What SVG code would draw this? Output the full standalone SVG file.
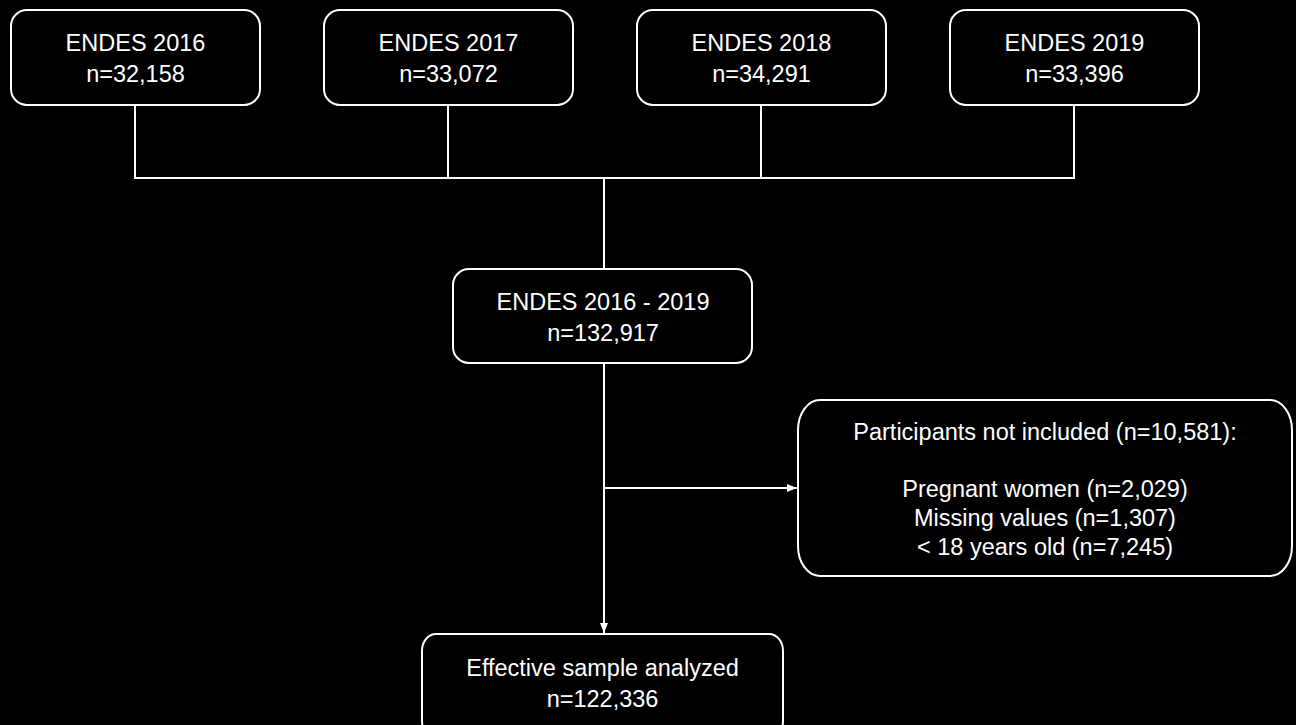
<svg xmlns="http://www.w3.org/2000/svg" width="1296" height="725" viewBox="0 0 1296 725">
<defs>
<marker id="ah" viewBox="0 0 10 10" refX="10" refY="5" markerWidth="5" markerHeight="5" orient="auto" markerUnits="strokeWidth"><path d="M0,1 L10,5 L0,9 z" fill="#fff"/></marker>
<style>
.box{fill:#000;stroke:#fff;stroke-width:2}
.t{fill:#fff;font-family:"Liberation Sans",Arial,sans-serif;font-size:23.5px;text-anchor:middle}
.c{fill:none;stroke:#fff;stroke-width:2}
</style>
</defs>
<rect width="1296" height="725" fill="#000"/>
<g id="connectors">
<path class="c" d="M135,105 V178 M448,105 V178 M761,105 V178 M1074,105 V178 M134,178 H1075 M604,178 V269"/>
<path class="c" d="M604,363 V633" marker-end="url(#ah)"/>
<path class="c" d="M604,488 H797" marker-end="url(#ah)"/>
</g>
<g id="n2016"><rect class="box" x="11" y="10" width="249" height="95" rx="16"/><text class="t" x="135.5" y="51">ENDES 2016</text><text class="t" x="135.5" y="82">n=32,158</text></g>
<g id="n2017"><rect class="box" x="324" y="10" width="249" height="95" rx="16"/><text class="t" x="448.5" y="51">ENDES 2017</text><text class="t" x="448.5" y="82">n=33,072</text></g>
<g id="n2018"><rect class="box" x="637" y="10" width="249" height="95" rx="16"/><text class="t" x="761.5" y="51">ENDES 2018</text><text class="t" x="761.5" y="82">n=34,291</text></g>
<g id="n2019"><rect class="box" x="950" y="10" width="249" height="95" rx="16"/><text class="t" x="1074.5" y="51">ENDES 2019</text><text class="t" x="1074.5" y="82">n=33,396</text></g>
<g id="pooled"><rect class="box" x="453" y="269" width="299" height="94" rx="16"/><text class="t" x="603" y="310">ENDES 2016 - 2019</text><text class="t" x="603" y="341">n=132,917</text></g>
<g id="excluded"><rect class="box" x="798" y="400" width="494" height="176" rx="22" ry="30"/><text class="t" x="1045" y="440">Participants not included (n=10,581):</text><text class="t" x="1045" y="497">Pregnant women (n=2,029)</text><text class="t" x="1045" y="526">Missing values (n=1,307)</text><text class="t" x="1045" y="555">&lt; 18 years old (n=7,245)</text></g>
<g id="final"><rect class="box" x="422" y="634" width="361" height="104" rx="14" ry="17"/><text class="t" x="602.5" y="676">Effective sample analyzed</text><text class="t" x="602.5" y="707">n=122,336</text></g>
</svg>
